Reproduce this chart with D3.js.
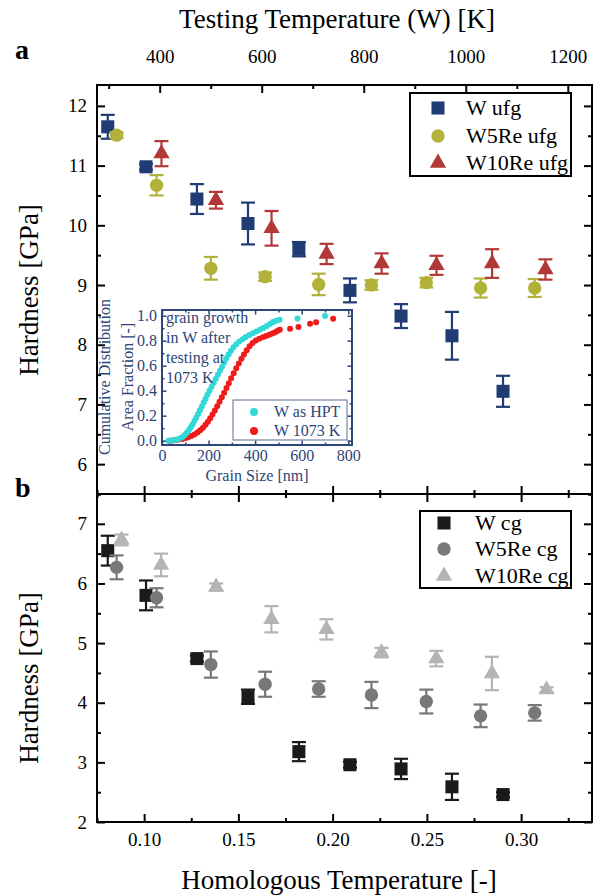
<!DOCTYPE html>
<html>
<head>
<meta charset="utf-8">
<script src="https://cdn.jsdelivr.net/npm/d3@7"></script>
<style>
  body { margin: 0; background: #fff; }
  svg { display: block; }
  text { font-family: "Liberation Serif", "Times New Roman", serif; }
</style>
</head>
<body>
<svg id="chart" width="598" height="896"></svg>
<script>
// ---- data ----
// homologous temperatures (T / Tm) per alloy
var homW      = [0.0807, 0.1010, 0.1280, 0.1551, 0.1821, 0.2092, 0.2363, 0.2633, 0.2904];
var homW5Re   = [0.0854, 0.1066, 0.1354, 0.1642, 0.1926, 0.2206, 0.2497, 0.2785, 0.3072];
var homW10Re  = [0.0880, 0.1090, 0.1382, 0.1675, 0.1967, 0.2259, 0.2550, 0.2845, 0.3135];
var homW10ReUfg = [0.1092, 0.1381, 0.1676, 0.1968, 0.2260, 0.2551, 0.2846, 0.3129];

// panel a : ultrafine grained
var hardWufg     = [11.65, 10.98, 10.44, 10.03, 9.60, 8.91, 8.48, 8.15, 7.22];
var errWufg      = [0.20, 0.05, 0.25, 0.35, 0.12, 0.20, 0.20, 0.40, 0.26];
var hardW5Reufg  = [11.51, 10.67, 9.28, 9.14, 9.01, 9.00, 9.04, 8.95, 8.95];
var errW5Reufg   = [0.05, 0.17, 0.19, 0.07, 0.18, 0.08, 0.08, 0.16, 0.15];
var hardW10Reufg = [11.20, 10.42, 9.95, 9.52, 9.36, 9.33, 9.36, 9.26];
var errW10Reufg  = [0.21, 0.14, 0.29, 0.17, 0.17, 0.16, 0.24, 0.17];

// panel b : coarse grained
var hardWcg     = [6.55, 5.80, 4.74, 4.10, 3.18, 2.96, 2.89, 2.59, 2.46];
var errWcg      = [0.25, 0.25, 0.05, 0.12, 0.16, 0.05, 0.17, 0.22, 0.04];
var hardW5Recg  = [6.27, 5.76, 4.64, 4.31, 4.23, 4.13, 4.02, 3.78, 3.83];
var errW5Recg   = [0.20, 0.16, 0.22, 0.21, 0.13, 0.22, 0.20, 0.19, 0.13];
var hardW10Recg = [6.73, 6.31, 5.94, 5.40, 5.23, 4.84, 4.74, 4.49, 4.22];
var errW10Recg  = [0.09, 0.19, 0.06, 0.22, 0.17, 0.08, 0.13, 0.28, 0.04];

// inset : cumulative grain size distribution [nm, fraction]
var cdfAsHPT = [[28,0.000],[40,0.002],[52,0.005],[64,0.010],[76,0.018],[88,0.030],[98,0.045],[107,0.063],
  [115,0.083],[123,0.105],[131,0.130],[139,0.157],[147,0.185],[155,0.214],[163,0.244],[171,0.274],
  [179,0.305],[187,0.336],[195,0.367],[204,0.399],[213,0.431],[222,0.463],[231,0.495],[240,0.527],
  [249,0.559],[258,0.592],[267,0.625],[276,0.658],[286,0.690],[296,0.720],[307,0.748],[319,0.772],
  [332,0.793],[346,0.812],[360,0.829],[375,0.845],[390,0.860],[405,0.874],[420,0.888],[435,0.902],
  [450,0.918],[464,0.934],[477,0.950],[490,0.960],[505,0.968],[582,0.978],[700,0.998]];
var cdf1073K = [[32,0.000],[45,0.002],[58,0.005],[72,0.009],[86,0.014],[100,0.020],[113,0.028],[126,0.038],
  [139,0.050],[152,0.065],[164,0.083],[176,0.104],[187,0.127],[197,0.152],[207,0.180],[217,0.210],
  [227,0.242],[237,0.276],[247,0.311],[257,0.347],[267,0.384],[277,0.421],[287,0.460],[297,0.500],
  [308,0.540],[319,0.580],[330,0.618],[341,0.655],[352,0.690],[364,0.724],[376,0.755],[389,0.781],
  [403,0.801],[418,0.815],[433,0.827],[447,0.838],[461,0.848],[474,0.858],[486,0.868],[497,0.880],
  [506,0.888],[550,0.895],[586,0.910],[636,0.935],[662,0.948],[735,0.975]];

var homTicks  = [0.10, 0.15, 0.20, 0.25, 0.30];
var tempTicks = [400, 600, 800, 1000, 1200];
var meltW = 3695; // K, melting point of W used for the top axis

var plotVariables = {
  left: 97, right: 592,
  topA: 85, mid: 494, bottomB: 822,
  majorTick: 8, minorTick: 4,
  tickFont: '19px', titleFont: '27px', legendFont: '22px'
};

var svg = d3.select('#chart');

// ---- scales ----
var x = d3.scaleLinear().domain([0.075, 0.3376]).range([plotVariables.left, plotVariables.right]);
var xTemp = d3.scaleLinear().domain([0.075 * meltW, 0.3376 * meltW]).range([plotVariables.left, plotVariables.right]);
var yA = d3.scaleLinear().domain([5.5, 12.35]).range([plotVariables.mid, plotVariables.topA]);
var yB = d3.scaleLinear().domain([2, 7.5]).range([plotVariables.bottomB, plotVariables.mid]);

// helper: draw an axis with inward major + minor ticks
function axisPair(g, axisFn, scale, major, minor, labels, pad) {
  g.append('g').call(axisFn(scale).tickValues(minor).tickSize(-plotVariables.minorTick).tickFormat(''))
    .call(a => a.select('.domain').remove())
    .selectAll('line').attr('stroke', '#000').attr('stroke-width', 2);
  var ax = g.append('g').call(axisFn(scale).tickValues(major).tickSize(-plotVariables.majorTick)
      .tickPadding(pad || 8).tickFormat(labels ? labels : ''))
    .call(a => a.select('.domain').remove());
  ax.selectAll('line').attr('stroke', '#000').attr('stroke-width', 2);
  ax.selectAll('text').attr('font-size', plotVariables.tickFont).attr('font-family', 'Liberation Serif').attr('fill', '#000');
  return ax;
}

var homMinor = d3.range(0.075, 0.34, 0.05).map(d => +d.toFixed(3));
var tempMinor = [300, 500, 700, 900, 1100];

// ---- panel a axes ----
var gA = svg.append('g');
axisPair(gA.append('g').attr('transform', `translate(0,${plotVariables.topA})`), d3.axisTop, xTemp, tempTicks, tempMinor, d3.format('d'), 22);
axisPair(gA.append('g').attr('transform', `translate(0,${plotVariables.mid})`), d3.axisBottom, x, homTicks, homMinor, null);
axisPair(gA.append('g').attr('transform', `translate(${plotVariables.left},0)`), d3.axisLeft, yA,
  [6, 7, 8, 9, 10, 11, 12], [5.5, 6.5, 7.5, 8.5, 9.5, 10.5, 11.5], d3.format('d'), 10);
axisPair(gA.append('g').attr('transform', `translate(${plotVariables.right},0)`), d3.axisRight, yA,
  [6, 7, 8, 9, 10, 11, 12], [5.5, 6.5, 7.5, 8.5, 9.5, 10.5, 11.5], null);

// ---- panel b axes ----
var gB = svg.append('g');
axisPair(gB.append('g').attr('transform', `translate(0,${plotVariables.mid})`), d3.axisTop, x, homTicks, homMinor, null);
axisPair(gB.append('g').attr('transform', `translate(0,${plotVariables.bottomB})`), d3.axisBottom, x, homTicks, homMinor, d3.format('.2f'), 11);
axisPair(gB.append('g').attr('transform', `translate(${plotVariables.left},0)`), d3.axisLeft, yB,
  [2, 3, 4, 5, 6, 7], [2.5, 3.5, 4.5, 5.5, 6.5, 7.5], d3.format('d'), 10);
axisPair(gB.append('g').attr('transform', `translate(${plotVariables.right},0)`), d3.axisRight, yB,
  [2, 3, 4, 5, 6, 7], [2.5, 3.5, 4.5, 5.5, 6.5, 7.5], null);

// frames
svg.append('rect').attr('x', plotVariables.left).attr('y', plotVariables.topA)
  .attr('width', plotVariables.right - plotVariables.left).attr('height', plotVariables.bottomB - plotVariables.topA)
  .attr('fill', 'none').attr('stroke', '#000').attr('stroke-width', 2);
svg.append('line').attr('x1', plotVariables.left).attr('x2', plotVariables.right)
  .attr('y1', plotVariables.mid).attr('y2', plotVariables.mid).attr('stroke', '#000').attr('stroke-width', 2);

// titles
svg.append('text').attr('x', 337).attr('y', 28).attr('text-anchor', 'middle')
  .attr('font-size', plotVariables.titleFont).text('Testing Temperature (W) [K]');
svg.append('text').attr('x', 339).attr('y', 889).attr('text-anchor', 'middle')
  .attr('font-size', plotVariables.titleFont).text('Homologous Temperature [-]');
svg.append('text').attr('transform', 'translate(38,290) rotate(-90)').attr('text-anchor', 'middle')
  .attr('font-size', plotVariables.titleFont).text('Hardness [GPa]');
svg.append('text').attr('transform', 'translate(38,678) rotate(-90)').attr('text-anchor', 'middle')
  .attr('font-size', plotVariables.titleFont).text('Hardness [GPa]');
svg.append('text').attr('x', 15).attr('y', 59).attr('font-size', '28px').attr('font-weight', 'bold').text('a');
svg.append('text').attr('x', 15).attr('y', 497).attr('font-size', '28px').attr('font-weight', 'bold').text('b');

// ---- series ----
var seriesA = [
  {name: 'W ufg', xs: homW, ys: hardWufg, es: errWufg, shape: d3.symbolSquare, size: 170, color: '#1f3c74'},
  {name: 'W5Re ufg', xs: homW5Re, ys: hardW5Reufg, es: errW5Reufg, shape: d3.symbolCircle, size: 140, color: '#b2b23a'},
  {name: 'W10Re ufg', xs: homW10ReUfg, ys: hardW10Reufg, es: errW10Reufg, shape: d3.symbolTriangle, size: 115, color: '#b23838'}
];
var seriesB = [
  {name: 'W cg', xs: homW, ys: hardWcg, es: errWcg, shape: d3.symbolSquare, size: 170, color: '#1a1a1a'},
  {name: 'W5Re cg', xs: homW5Re, ys: hardW5Recg, es: errW5Recg, shape: d3.symbolCircle, size: 140, color: '#787878'},
  {name: 'W10Re cg', xs: homW10Re, ys: hardW10Recg, es: errW10Recg, shape: d3.symbolTriangle, size: 115, color: '#b4b4b4'}
];

function drawSeries(list, y) {
  list.forEach(function (s) {
    var pts = s.xs.map((d, i) => ({x: d, y: s.ys[i], e: s.es[i]}));
    var g = svg.append('g').attr('stroke', s.color).attr('stroke-width', 2.2);
    g.selectAll('line.bar').data(pts).join('line').attr('class', 'bar')
      .attr('x1', d => x(d.x)).attr('x2', d => x(d.x))
      .attr('y1', d => y(d.y - d.e)).attr('y2', d => y(d.y + d.e));
    g.selectAll('line.capHi').data(pts).join('line').attr('class', 'capHi')
      .attr('x1', d => x(d.x) - 7).attr('x2', d => x(d.x) + 7)
      .attr('y1', d => y(d.y + d.e)).attr('y2', d => y(d.y + d.e));
    g.selectAll('line.capLo').data(pts).join('line').attr('class', 'capLo')
      .attr('x1', d => x(d.x) - 7).attr('x2', d => x(d.x) + 7)
      .attr('y1', d => y(d.y - d.e)).attr('y2', d => y(d.y - d.e));
    svg.append('g').selectAll('path').data(pts).join('path')
      .attr('d', d3.symbol().type(s.shape).size(s.size))
      .attr('transform', d => `translate(${x(d.x)},${y(d.y)})`)
      .attr('fill', s.color);
  });
}
drawSeries(seriesA, yA);
drawSeries(seriesB, yB);

// legends
function drawLegend(list, box, symX, textX, rowY) {
  svg.append('rect').attr('x', box[0]).attr('y', box[1]).attr('width', box[2]).attr('height', box[3])
    .attr('fill', '#fff').attr('stroke', '#000').attr('stroke-width', 2);
  list.forEach(function (s, i) {
    svg.append('path').attr('d', d3.symbol().type(s.shape).size(s.size)())
      .attr('transform', `translate(${symX},${rowY[i]})`).attr('fill', s.color);
    svg.append('text').attr('x', textX).attr('y', rowY[i] + 7)
      .attr('font-size', plotVariables.legendFont).text(s.name);
  });
}
drawLegend(seriesA, [410, 93, 161, 83], 438, 466, [108, 136, 163]);
drawLegend(seriesB, [420, 511, 151, 77], 444, 475, [523, 549, 576]);

// ---- inset ----
var navy = '#2d4578';
var ix = d3.scaleLinear().domain([0, 816]).range([162, 352]);
var iy = d3.scaleLinear().domain([-0.0344, 1.0456]).range([445, 310]);
var inset = svg.append('g');
inset.append('rect').attr('x', 162).attr('y', 310).attr('width', 190).attr('height', 135).attr('fill', '#fff');

function insetAxis(tr, fn, scale, major, minor, fmt) {
  var g = inset.append('g').attr('transform', tr);
  g.append('g').call(fn(scale).tickValues(minor).tickSize(-2.5).tickFormat(''))
    .call(a => a.select('.domain').remove())
    .selectAll('line').attr('stroke', navy).attr('stroke-width', 1.5);
  var ax = g.append('g').call(fn(scale).tickValues(major).tickSize(-4.5).tickPadding(5).tickFormat(fmt ? fmt : ''))
    .call(a => a.select('.domain').remove());
  ax.selectAll('line').attr('stroke', navy).attr('stroke-width', 1.5);
  ax.selectAll('text').attr('font-size', '16px').attr('font-family', 'Liberation Serif').attr('fill', navy);
}
insetAxis('translate(0,445)', d3.axisBottom, ix, [0, 200, 400, 600, 800], [100, 300, 500, 700], d3.format('d'));
insetAxis('translate(0,310)', d3.axisTop, ix, [0, 200, 400, 600, 800], [100, 300, 500, 700], null);
insetAxis('translate(162,0)', d3.axisLeft, iy, [0, 0.2, 0.4, 0.6, 0.8, 1.0], [0.1, 0.3, 0.5, 0.7, 0.9], d3.format('.1f'));
insetAxis('translate(352,0)', d3.axisRight, iy, [0, 0.2, 0.4, 0.6, 0.8, 1.0], [0.1, 0.3, 0.5, 0.7, 0.9], null);

inset.append('g').selectAll('circle').data(cdf1073K).join('circle')
  .attr('cx', d => ix(d[0])).attr('cy', d => iy(d[1])).attr('r', 3).attr('fill', '#ee1c1c');
inset.append('g').selectAll('circle').data(cdfAsHPT).join('circle')
  .attr('cx', d => ix(d[0])).attr('cy', d => iy(d[1])).attr('r', 3).attr('fill', '#33d8d8');

inset.append('rect').attr('x', 162).attr('y', 310).attr('width', 190).attr('height', 135)
  .attr('fill', 'none').attr('stroke', navy).attr('stroke-width', 2);

// inset annotation
['grain growth', 'in W after', 'testing at', '1073 K'].forEach(function (t, i) {
  inset.append('text').attr('x', 166).attr('y', 323 + 20 * i).attr('font-size', '16px').attr('fill', navy).text(t);
});

// inset legend
inset.append('rect').attr('x', 233).attr('y', 400).attr('width', 114).attr('height', 40)
  .attr('fill', '#fff').attr('stroke', '#5b6b92').attr('stroke-width', 1);
[['W as HPT', '#33d8d8'], ['W 1073 K', '#ee1c1c']].forEach(function (d, i) {
  inset.append('circle').attr('cx', 254).attr('cy', 412 + 19 * i).attr('r', 4).attr('fill', d[1]);
  inset.append('text').attr('x', 274).attr('y', 417 + 19 * i).attr('font-size', '16px').attr('fill', navy).text(d[0]);
});

// inset axis titles
inset.append('text').attr('x', 257).attr('y', 481).attr('text-anchor', 'middle')
  .attr('font-size', '16px').attr('fill', navy).text('Grain Size [nm]');
inset.append('text').attr('transform', 'translate(110,377) rotate(-90)').attr('text-anchor', 'middle')
  .attr('font-size', '16px').attr('fill', navy).text('Cumulative Distribution');
inset.append('text').attr('transform', 'translate(133,377) rotate(-90)').attr('text-anchor', 'middle')
  .attr('font-size', '16px').attr('fill', navy).text('Area Fraction [-]');
</script>
</body>
</html>
